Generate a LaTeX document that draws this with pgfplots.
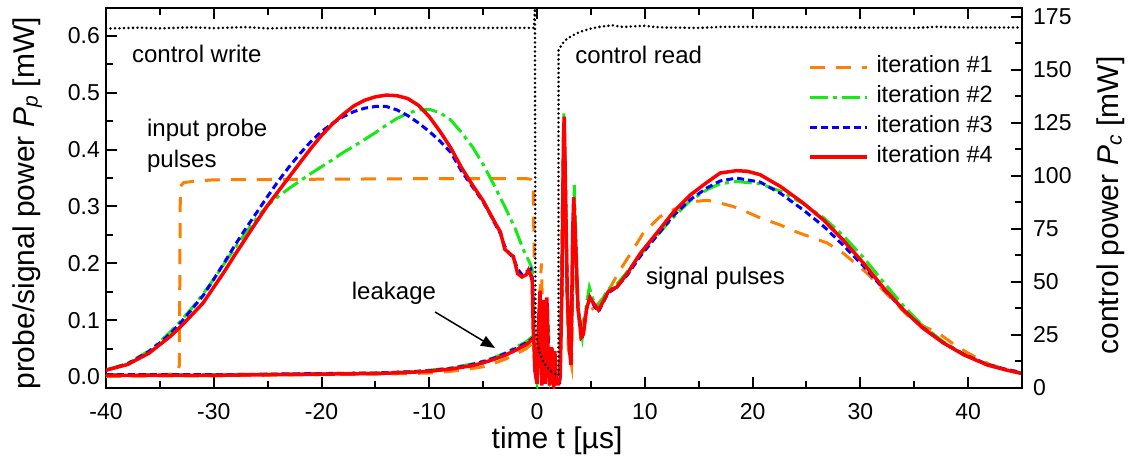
\documentclass[border=0pt]{standalone}
\usepackage{pgfplots}
\pgfplotsset{compat=1.18}
\usepackage{fontspec}
\setmainfont{Liberation Sans}
\usetikzlibrary{arrows.meta}
\definecolor{corange}{RGB}{255,128,0}
\definecolor{cgreen}{RGB}{20,235,20}
\definecolor{cblue}{RGB}{0,0,255}
\definecolor{cred}{RGB}{255,0,0}
\begin{document}
\begin{tikzpicture}
\pgfplotsset{
  common/.style={
    width=916pt, height=380pt, scale only axis,
    xmin=-40, xmax=45,
    tick align=inside,
    major tick length=11pt, minor tick length=7pt,
    every tick/.style={black, line width=2pt},
    axis line style={line width=2.5pt},
    /pgf/number format/assume math mode=true,
    tick label style={font=\fontsize{23}{23}\selectfont},
    label style={font=\fontsize{30}{30}\selectfont},
  }
}
\begin{axis}[common,
  ymin=-0.0194, ymax=0.6493,
  xtick={-40,-30,-20,-10,0,10,20,30,40}, minor x tick num=1,
  ytick={0,0.1,0.2,0.3,0.4,0.5,0.6}, minor y tick num=1,
  xtick pos=both, ytick pos=left,
  xticklabel style={inner sep=0pt, yshift=-15pt},
  yticklabel style={inner sep=0pt, xshift=-6pt, /pgf/number format/.cd, fixed, fixed zerofill, precision=1},
  xlabel={time t [µs]},
  xlabel style={at={(axis description cs:0.4924,0)}, anchor=base, yshift=-60pt},
  ylabel={probe/signal power \textit{P}\textsubscript{\textit{p}} [mW]},
  ylabel style={at={(axis description cs:-0.0786,0.4855)}, anchor=base},
  legend image code/.code={\draw[#1] (0pt,0pt) -- (57pt,0pt);},
  legend style={draw=none, fill=none, inner sep=0pt, outer sep=0pt,
    at={(axis description cs:0.7664,0.871)}, anchor=north west,
    row sep=10pt, column sep=8pt,
    font=\fontsize{23.5}{23.5}\selectfont,
    nodes={inner sep=0pt, text height=15pt, text depth=5pt}},
  legend cell align=left,
]
% ---------- iteration 1 (orange dashed) ----------
\addplot[corange, line width=3pt, dash pattern=on 15pt off 11pt] coordinates {
(-40,0.001) (-35,0.002) (-30,0.002) (-25,0.003) (-20,0.004) (-15,0.005) (-12,0.006) (-10,0.007) (-8,0.01) (-6,0.015) (-5,0.018) (-4,0.024) (-3,0.031) (-2,0.04) (-1,0.05) (-0.5,0.058) (-0.3,0.06) (-0.15,0.02) (0.0,0.0) (0.15,0.1) (0.4,0.2) (0.6,0.05) (0.8,0.0) (1.0,0.12) (1.2,0.0) (1.5,0.03) (1.7,-0.01) (2.0,-0.01) (2.2,0.1) (2.4,0.38) (2.6,0.3) (2.9,0.05) (3.2,0.02) (3.45,0.3) (3.7,0.15) (4.0,0.08) (4.25,0.1) (4.8,0.115) (5.5,0.125) (6.5,0.148) (7.7,0.188) (8.9,0.224) (9.85,0.253) (11.4,0.282) (12.6,0.294) (14.2,0.308) (15.8,0.311) (17,0.306) (18.2,0.3) (19.5,0.29) (20.7,0.28) (22.5,0.268) (24.1,0.255) (26,0.242) (26.9,0.236) (28.4,0.218) (30.6,0.183) (32.5,0.145) (34.4,0.108) (36,0.088) (37.1,0.079) (38.5,0.06) (39.9,0.043) (42,0.022) (44.6,0.008) (45,0.007)
};
\addlegendentry{iteration \#1}
\addplot[corange, line width=3pt, dash pattern=on 15pt off 11pt, forget plot] coordinates {
(-40,0.002) (-36,0.003) (-34,0.005) (-33.4,0.004) (-33.2,0.02) (-33.1,0.335) (-32.8,0.342) (-32,0.344) (-30,0.347) (-20,0.348) (-10,0.349) (-1,0.349) (-0.6,0.348) (-0.35,0.34) (-0.3,0.25) (-0.25,0.2)
};
% ---------- iteration 2 (green dash-dot) ----------
\addplot[cgreen, line width=3pt, dash pattern=on 18pt off 5pt on 4pt off 5pt] coordinates {
(-40,0.004) (-35,0.004) (-30,0.004) (-25,0.005) (-20,0.006) (-15,0.007) (-12,0.009) (-10,0.012) (-8,0.016) (-6,0.023) (-5,0.028) (-4,0.034) (-3,0.042) (-2,0.052) (-1,0.062) (-0.5,0.07) (-0.3,0.072) (-0.2,0.01) (0.0,-0.01) (0.3,0.14) (0.45,-0.012) (0.6,0.12) (0.75,-0.01) (0.95,0.13) (1.15,-0.012) (1.4,0.05) (1.6,-0.01) (2.1,-0.01) (2.3,0.15) (2.5,0.465) (2.62,0.35) (2.8,0.15) (3.15,0.03) (3.45,0.338) (3.6,0.25) (3.8,0.12) (4.2,0.07) (4.6,0.13) (4.85,0.158) (5.3,0.13) (5.7,0.125) (6.6,0.155) (7.4,0.163) (8.4,0.186) (9.6,0.215) (11.1,0.248) (12.6,0.28) (14.2,0.31) (15.8,0.33) (17,0.34) (18.5,0.344) (20.7,0.34) (22.6,0.327) (24.7,0.305) (26.6,0.28) (28.4,0.249) (30.3,0.21) (32.1,0.168) (34,0.125) (35.8,0.09) (37.7,0.062) (39.6,0.04) (41.8,0.022) (43.6,0.012) (45,0.007)
};
\addlegendentry{iteration \#2}
\addplot[cgreen, line width=3pt, dash pattern=on 18pt off 5pt on 4pt off 5pt, forget plot] coordinates {
(-40,0.012) (-38,0.024) (-36,0.046) (-35,0.062) (-34,0.08) (-33,0.1) (-32,0.122) (-31,0.146) (-30,0.172) (-29,0.2) (-28,0.228) (-27,0.255) (-26,0.28) (-25,0.302) (-24,0.318) (-23,0.332) (-22,0.345) (-21,0.358) (-20,0.37) (-19,0.382) (-18,0.395) (-17,0.406) (-16,0.418) (-15,0.43) (-14,0.443) (-13,0.455) (-12,0.464) (-11,0.47) (-10,0.471) (-9,0.465) (-8,0.452) (-7,0.43) (-6,0.405) (-5,0.374) (-4,0.338) (-3,0.3) (-2,0.26) (-1.3,0.225) (-0.7,0.202) (-0.45,0.19) (-0.3,0.07)
};
% ---------- iteration 3 (blue dotted) ----------
\addplot[cblue, line width=3pt, dash pattern=on 7pt off 4pt] coordinates {
(-40,0.004) (-35,0.004) (-30,0.004) (-25,0.005) (-20,0.006) (-15,0.007) (-12,0.009) (-10,0.011) (-8,0.015) (-6,0.022) (-5,0.027) (-4,0.033) (-3,0.041) (-2,0.05) (-1,0.06) (-0.5,0.067) (-0.3,0.07) (-0.2,0.01) (0.0,-0.01) (0.3,0.14) (0.45,-0.012) (0.6,0.12) (0.75,-0.01) (0.95,0.13) (1.15,-0.012) (1.4,0.05) (1.6,-0.01) (2.1,-0.01) (2.3,0.15) (2.5,0.44) (2.62,0.35) (2.8,0.15) (3.15,0.03) (3.4,0.31) (3.55,0.25) (3.8,0.12) (4.2,0.068) (4.6,0.12) (4.9,0.14) (5.3,0.125) (5.7,0.115) (6.6,0.148) (7.4,0.158) (8.4,0.18) (9.6,0.213) (11.1,0.248) (12.6,0.283) (14.2,0.312) (15.8,0.333) (17,0.345) (18.5,0.35) (20.7,0.343) (22.6,0.323) (24.7,0.294) (26.6,0.265) (28.4,0.232) (30.3,0.195) (32.1,0.156) (34,0.118) (35.8,0.087) (37.7,0.06) (39.6,0.04) (41.8,0.022) (43.6,0.013) (45,0.008)
};
\addlegendentry{iteration \#3}
\addplot[cblue, line width=3pt, dash pattern=on 7pt off 4pt, forget plot] coordinates {
(-40,0.012) (-38,0.023) (-36,0.045) (-35,0.06) (-34,0.077) (-33,0.097) (-32,0.12) (-31,0.143) (-30,0.172) (-29,0.202) (-28,0.233) (-27,0.262) (-26,0.29) (-25,0.318) (-24,0.345) (-23,0.37) (-22,0.393) (-21,0.414) (-20,0.432) (-19,0.446) (-18,0.458) (-17,0.467) (-16,0.473) (-15,0.476) (-14,0.476) (-13,0.47) (-12,0.46) (-11,0.447) (-10,0.432) (-9,0.415) (-8,0.395) (-7,0.362) (-6,0.335) (-5,0.308) (-4.4,0.288) (-3.8,0.266) (-3.4,0.252) (-3.0,0.23) (-2.6,0.218) (-2.2,0.21) (-1.8,0.19) (-1.4,0.18) (-1.0,0.185) (-0.6,0.19) (-0.4,0.17) (-0.3,0.07)
};
% ---------- iteration 4 (red solid) ----------
\addplot[cred, line width=3.5pt] coordinates {
(-40,0.003) (-35,0.003) (-30,0.003) (-25,0.004) (-20,0.005) (-15,0.006) (-12,0.008) (-10,0.01) (-8,0.014) (-6,0.02) (-5,0.025) (-4,0.031) (-3,0.038) (-2,0.047) (-1,0.057) (-0.5,0.065) (-0.3,0.068) (-0.22,0.02) (-0.15,0.005) (0.0,-0.012) (0.15,0.1) (0.28,0.152) (0.38,0.02) (0.45,-0.015) (0.56,0.135) (0.68,0.0) (0.75,-0.012) (0.9,0.14) (1.05,0.02) (1.15,-0.015) (1.35,0.053) (1.45,-0.005) (1.55,-0.015) (1.65,0.046) (1.8,-0.012) (2.0,-0.012) (2.15,0.0) (2.3,0.15) (2.45,0.42) (2.52,0.458) (2.62,0.35) (2.8,0.15) (3.0,0.05) (3.15,0.021) (3.3,0.25) (3.4,0.317) (3.55,0.25) (3.8,0.12) (4.1,0.07) (4.3,0.075) (4.6,0.12) (4.9,0.14) (5.3,0.128) (5.7,0.118) (6.2,0.135) (6.6,0.15) (7.0,0.155) (7.4,0.158) (8.4,0.183) (9.6,0.218) (11.1,0.253) (12.6,0.289) (14.2,0.32) (15.8,0.343) (17,0.359) (18.5,0.363) (19.5,0.362) (20.7,0.356) (22.6,0.335) (24.7,0.306) (26.6,0.276) (28.4,0.241) (30.3,0.2) (32.1,0.158) (34,0.118) (35.8,0.086) (37.7,0.06) (39.6,0.039) (41.8,0.021) (43.6,0.012) (45,0.006)
};
\addlegendentry{iteration \#4}
\addplot[cred, line width=3.5pt, forget plot] coordinates {
(-40,0.012) (-38,0.022) (-36,0.042) (-35,0.057) (-34,0.072) (-33,0.09) (-32,0.11) (-31,0.13) (-30,0.158) (-29,0.186) (-28,0.216) (-27,0.245) (-26,0.274) (-25,0.302) (-24,0.327) (-23,0.352) (-22,0.377) (-21,0.402) (-20,0.425) (-19,0.445) (-18,0.462) (-17,0.477) (-16,0.487) (-15,0.493) (-14,0.496) (-13,0.495) (-12,0.49) (-11,0.478) (-10,0.458) (-9,0.432) (-8,0.403) (-7,0.368) (-6,0.338) (-5,0.31) (-4.4,0.289) (-3.8,0.268) (-3.4,0.255) (-3.0,0.225) (-2.6,0.218) (-2.2,0.212) (-1.8,0.182) (-1.4,0.176) (-1.0,0.18) (-0.8,0.188) (-0.6,0.18) (-0.45,0.17) (-0.35,0.08) (-0.3,0.065)
};
% ---------- annotations ----------
\node[anchor=base west, inner sep=0pt, font=\fontsize{24}{24}\selectfont] at (axis cs:-37.6,0.554) {control write};
\node[anchor=base west, inner sep=0pt, font=\fontsize{24}{24}\selectfont] at (axis cs:3.53,0.5525) {control read};
\node[anchor=base west, inner sep=0pt, font=\fontsize{24}{24}\selectfont] at (axis cs:-36.2,0.4223) {input probe};
\node[anchor=base west, inner sep=0pt, font=\fontsize{24}{24}\selectfont] at (axis cs:-36.2,0.3695) {pulses};
\node[anchor=base west, inner sep=0pt, font=\fontsize{24}{24}\selectfont] at (axis cs:-17.2,0.137) {leakage};
\node[anchor=base west, inner sep=0pt, font=\fontsize{24}{24}\selectfont] at (axis cs:10.1,0.1636) {signal pulses};
\draw[black, line width=1.5pt, -{Triangle[length=14pt,width=11pt]}] (axis cs:-9.47,0.1144) -- (axis cs:-3.9,0.051);
\end{axis}
\begin{axis}[common,
  ymin=0, ymax=179.2,
  axis x line=none, axis y line*=right,
  ytick={0,25,50,75,100,125,150,175}, minor y tick num=1,
  yticklabel style={inner sep=0pt, xshift=11pt},
  ylabel={control power \textit{P}\textsubscript{\textit{c}} [mW]},
  ylabel style={at={(axis description cs:1.1048,0.4803)}, anchor=base},
]
\addplot[black, line width=2.8pt, dash pattern=on 0pt off 4.5pt, line cap=round] coordinates {
(-40,169.5) (-37,169.9) (-35,169.6) (-32,170.1) (-30,169.7) (-27,170.2) (-25,169.6) (-22,169.9) (-20,169.8) (-15,169.7) (-10,169.8) (-5,169.8) (-1,169.8) (-0.3,169.8) (-0.2,179) (-0.15,30) (0.0,22) (0.2,17.5) (0.5,13) (0.9,10) (1.4,7.5) (1.9,6.0) (1.98,6) (2.0,159.4) (2.3,162) (2.6,164) (3.2,166) (4,168) (5,169.5) (6,170.5) (7,171) (8,170.2) (9,170.6) (10,170.8) (11,170.2) (12,170) (15,169.8) (17,170.3) (20,170.3) (25,170.1) (30,170) (35,169.8) (37,170.3) (40,170) (45,170)
};
\end{axis}
\pgfresetboundingbox
\path[use as bounding box] (-106pt,-68pt) rectangle (1025pt,388pt);
\end{tikzpicture}
\end{document}
